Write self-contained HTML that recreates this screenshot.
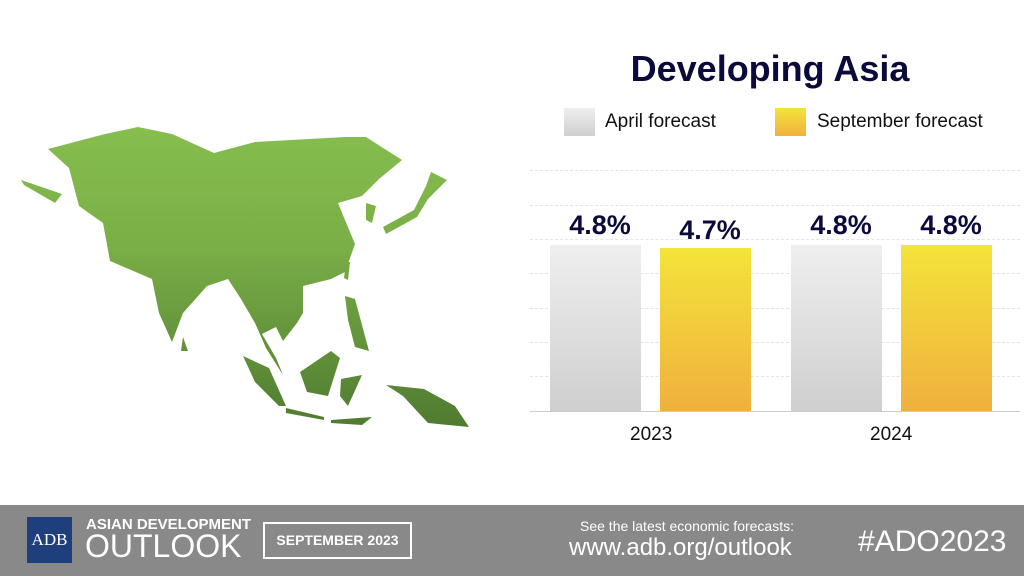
<!DOCTYPE html>
<html><head><meta charset="utf-8"><style>
body{margin:0;width:1024px;height:576px;background:#fff;position:relative;overflow:hidden;font-family:"Liberation Sans",sans-serif}
.a{position:absolute;white-space:nowrap}
.grid{position:absolute;left:530px;width:490px;border-top:1px dashed #e4e4e4}
.val{position:absolute;font-weight:bold;font-size:27px;color:#0b0b3b;width:120px;text-align:center}
.g{background:linear-gradient(#efefef,#cfcfcf)}
.y{background:linear-gradient(#f3e43a,#f0b03e)}
</style></head><body>
<svg class="a" style="left:0;top:0" width="540" height="480">
<defs><linearGradient id="gr" x1="0" y1="125" x2="0" y2="430" gradientUnits="userSpaceOnUse"><stop offset="0" stop-color="#86be4e"/><stop offset="0.4" stop-color="#7aae47"/><stop offset="1" stop-color="#4f7a30"/></linearGradient></defs>
<g fill="url(#gr)">
<polygon points="48,149 105,134 138,127 172,134 214,153 255,142 345,137 366,137 402,160 379,179 362,196 338,203 345,220 355,244 345,272 331,279 303,286 303,313 297,323 283,341 276,327 262,334 276,358 283,375 266,348 255,323 241,299 228,279 207,286 183,313 172,342 159,313 152,279 110,261 103,223 79,206 69,168"/>
<polygon points="431,172 447,180 428,199 417,217 386,234 383,227 414,210 426,186"/>
<polygon points="366,203 376,206 372,223 366,220"/>
<polygon points="243,356 269,368 286,406 279,406 255,382"/>
<polygon points="286,408 324,417 324,420 286,413"/>
<polygon points="300,372 331,351 340,358 328,396 307,392"/>
<polygon points="341,379 362,375 348,406 340,396"/>
<polygon points="386,385 424,389 455,406 469,427 428,423 403,396"/>
<polygon points="345,296 355,299 369,351 355,347 348,320"/>
<polygon points="183,337 188,351 181,351"/>
<polygon points="21,180 62,194 55,203 24,185"/>
<polygon points="331,420 372,417 362,425 331,423"/>
<polygon points="346,262 350,262 348,280 344,278"/>
</g></svg>
<div class="a" style="left:560px;top:48px;width:420px;text-align:center;font-size:36px;font-weight:bold;color:#0b0b3b">Developing Asia</div>
<div class="a g" style="left:564px;top:108px;width:31px;height:28px"></div>
<div class="a" style="left:605px;top:111px;font-size:19px;color:#111">April forecast</div>
<div class="a y" style="left:775px;top:108px;width:31px;height:28px"></div>
<div class="a" style="left:817px;top:111px;font-size:19px;color:#111">September forecast</div>
<div class="grid" style="top:170px"></div><div class="grid" style="top:205px"></div><div class="grid" style="top:239px"></div><div class="grid" style="top:273px"></div><div class="grid" style="top:308px"></div><div class="grid" style="top:342px"></div><div class="grid" style="top:376px"></div>
<div class="a" style="left:530px;top:411px;width:490px;border-top:1px solid #ccc"></div>
<div class="a g" style="left:550px;top:245px;width:91px;height:166px"></div>
<div class="a y" style="left:660px;top:248px;width:91px;height:163px"></div>
<div class="a g" style="left:791px;top:245px;width:91px;height:166px"></div>
<div class="a y" style="left:901px;top:245px;width:91px;height:166px"></div>
<div class="val" style="left:540px;top:210px">4.8%</div>
<div class="val" style="left:650px;top:215px">4.7%</div>
<div class="val" style="left:781px;top:210px">4.8%</div>
<div class="val" style="left:891px;top:210px">4.8%</div>
<div class="a" style="left:630px;top:424px;font-size:19px;color:#111">2023</div>
<div class="a" style="left:870px;top:424px;font-size:19px;color:#111">2024</div>
<div class="a" style="left:0;top:505px;width:1024px;height:71px;background:#898989"></div>
<div class="a" style="left:27px;top:517px;width:45px;height:46px;background:#1f3e7c;color:#fff;font-family:'Liberation Serif',serif;font-size:17px;line-height:46px;text-align:center">ADB</div>
<div class="a" style="left:86px;top:516px;font-size:15px;color:#fff;font-weight:bold">ASIAN DEVELOPMENT</div>
<div class="a" style="left:85px;top:528px;font-size:32px;color:#fff">OUTLOOK</div>
<div class="a" style="left:263px;top:522px;width:145px;height:33px;border:2px solid #fff;color:#fff;font-size:14px;font-weight:bold;line-height:33px;text-align:center">SEPTEMBER 2023</div>
<div class="a" style="left:580px;top:518px;font-size:14px;color:#fff">See the latest economic forecasts:</div>
<div class="a" style="left:569px;top:534px;font-size:24px;color:#fff">www.adb.org/outlook</div>
<div class="a" style="left:858px;top:525px;font-size:30px;color:#fff">#ADO2023</div>
</body></html>
